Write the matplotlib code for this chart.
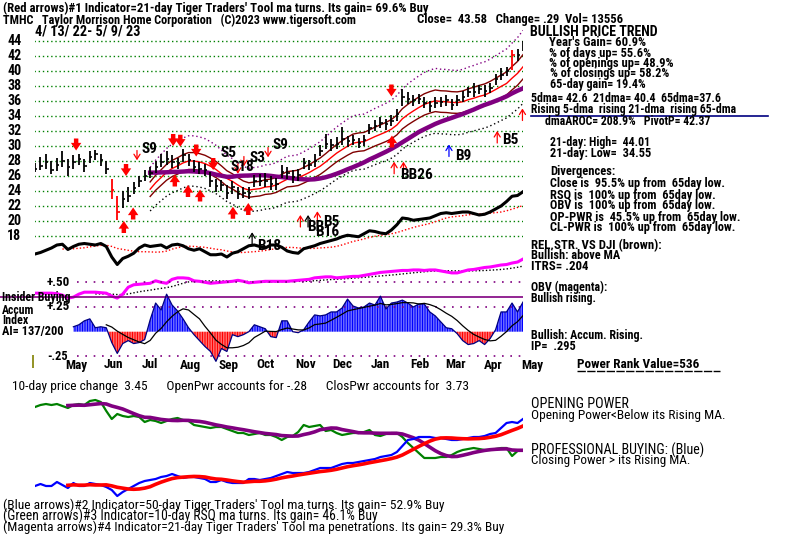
import numpy as np
import pandas as pd
import matplotlib
matplotlib.use('Agg')
import matplotlib.pyplot as plt

# TMHC daily chart, 4/13/22 - 5/9/23, sampled about every 3 trading days
start, end = '2022-04-13', '2023-05-09'

closes = [27.0, 27.4, 27.9, 26.8, 27.5, 28.0, 27.2, 27.9, 28.3, 27.3,
          28.6, 28.9, 28.1, 27.0, 24.2, 21.2, 23.0, 23.4, 24.4, 25.3,
          26.0, 26.4, 27.2, 27.9, 28.3, 27.9, 27.7, 28.8, 28.2, 27.2,
          27.0, 26.8, 25.4, 24.7, 24.8, 23.8, 24.5, 23.6, 23.7, 23.8,
          25.4, 25.4, 25.3, 25.0, 25.0, 26.5, 26.4, 25.9, 26.2, 27.7,
          27.5, 28.0, 29.4, 30.3, 30.1, 30.3, 31.0, 30.7, 30.8, 30.4,
          30.8, 32.4, 32.7, 33.1, 32.9, 33.4, 34.3, 36.6, 36.3, 36.1,
          36.3, 35.8, 35.3, 35.8, 35.9, 36.1, 35.5, 36.1, 36.6, 37.2,
          37.2, 37.6, 37.4, 37.8, 38.9, 39.5, 40.0, 42.1, 42.1, 43.5]
highs = [27.8, 28.5, 28.9, 28.0, 28.4, 29.4, 28.3, 28.8, 29.0, 28.3,
         29.3, 29.5, 29.0, 28.0, 25.6, 23.4, 24.0, 24.5, 25.2, 26.0,
         26.8, 27.2, 28.0, 28.9, 29.4, 28.8, 28.4, 29.6, 29.0, 28.1,
         27.9, 27.6, 26.5, 25.6, 25.5, 24.8, 25.4, 24.5, 24.5, 24.6,
         26.2, 26.3, 26.4, 26.0, 25.8, 27.5, 27.2, 26.8, 26.9, 28.4,
         28.2, 28.9, 30.2, 31.6, 30.9, 31.2, 32.5, 31.4, 31.5, 31.1,
         31.5, 33.0, 33.5, 33.9, 33.6, 34.2, 35.0, 37.6, 37.2, 36.8,
         36.9, 36.5, 36.0, 36.5, 36.6, 36.8, 36.3, 36.8, 37.3, 37.9,
         38.4, 38.2, 38.1, 38.4, 39.6, 40.4, 40.6, 42.8, 43.0, 44.0]
lows = [26.5, 26.8, 27.0, 26.3, 26.7, 27.2, 26.0, 27.0, 27.5, 26.5,
        27.8, 28.2, 27.3, 26.3, 23.0, 20.2, 21.8, 22.6, 23.6, 24.6,
        25.4, 25.8, 26.4, 27.2, 27.5, 27.1, 26.9, 27.9, 27.4, 26.5,
        26.3, 26.0, 24.6, 23.9, 24.0, 23.0, 23.6, 23.0, 23.1, 23.0,
        24.5, 24.7, 24.6, 24.1, 24.2, 25.7, 25.6, 25.1, 25.4, 26.9,
        26.8, 27.2, 28.7, 29.6, 29.4, 29.6, 30.2, 29.9, 30.1, 29.7,
        30.0, 31.6, 32.0, 32.4, 32.1, 32.7, 33.4, 35.3, 35.6, 35.4,
        35.6, 35.1, 34.6, 35.1, 35.2, 35.4, 34.8, 35.4, 35.9, 36.5,
        36.6, 36.9, 36.6, 37.1, 38.1, 38.8, 39.3, 40.1, 41.3, 42.7]
red_bars = [14, 15, 87]

# relative strength vs DJI (drawn in the price panel, arbitrary scale)
rel_strength = [15.6, 15.8, 16.1, 16.4, 16.8, 16.9, 16.2, 16.6, 16.9, 17.0,
                16.9, 16.8, 17.0, 16.6, 15.2, 14.2, 15.0, 15.3, 15.7, 16.4,
                16.8, 16.6, 16.7, 16.8, 16.4, 16.8, 16.9, 16.7, 16.3, 16.1,
                16.3, 15.9, 15.5, 15.5, 15.6, 15.2, 15.7, 15.9, 16.3, 16.7,
                16.8, 16.6, 16.4, 16.8, 16.8, 16.5, 16.0, 15.8, 15.7, 16.3,
                16.5, 16.7, 17.0, 17.2, 17.4, 17.6, 17.9, 18.1, 18.0, 17.9,
                18.3, 18.7, 18.6, 18.4, 18.3, 18.8, 19.5, 20.4, 20.3, 20.1,
                20.2, 20.3, 20.4, 20.7, 21.0, 21.1, 21.0, 21.1, 21.2, 21.2,
                21.0, 20.8, 20.9, 21.2, 21.6, 22.0, 22.6, 23.3, 23.4, 23.9]

# OBV (magenta), on the accumulation panel scale
obv = [0.39, 0.39, 0.39, 0.39, 0.385, 0.37, 0.34, 0.35, 0.38, 0.40,
       0.40, 0.40, 0.395, 0.39, 0.36, 0.34, 0.38, 0.45, 0.475, 0.48,
       0.485, 0.49, 0.515, 0.50, 0.49, 0.53, 0.545, 0.545, 0.54, 0.515,
       0.51, 0.50, 0.49, 0.495, 0.50, 0.505, 0.51, 0.52, 0.51, 0.495,
       0.50, 0.505, 0.51, 0.51, 0.51, 0.51, 0.51, 0.515, 0.52, 0.525,
       0.53, 0.545, 0.55, 0.555, 0.555, 0.545, 0.55, 0.555, 0.56, 0.56,
       0.57, 0.58, 0.59, 0.60, 0.605, 0.61, 0.615, 0.62, 0.62, 0.625,
       0.625, 0.62, 0.625, 0.625, 0.615, 0.605, 0.595, 0.595, 0.61, 0.625,
       0.63, 0.64, 0.65, 0.655, 0.665, 0.675, 0.68, 0.695, 0.705, 0.735]

# Accumulation index (starts after 21 days)
accum = [np.nan] * 7 + [
    0.05, 0.07, 0.11, 0.13, 0.04, 0.05, 0.04, -0.11, -0.22, -0.12,
    -0.09, -0.12, -0.11, -0.08, 0.12, 0.29, 0.22, 0.38, 0.27, 0.21,
    0.13, 0.04, -0.03, -0.09, -0.15, -0.20, -0.30, -0.17, -0.20, -0.03,
    -0.05, -0.03, 0.0, 0.07, 0.05, 0.03, -0.05, -0.06, 0.11, 0.11,
    0.0, -0.01, 0.02, 0.10, 0.17, 0.16, 0.17, 0.20, 0.20, 0.24,
    0.33, 0.26, 0.24, 0.25, 0.29, 0.27, 0.36, 0.23, 0.29, 0.30,
    0.32, 0.29, 0.25, 0.28, 0.28, 0.20, 0.16, 0.10, 0.04, 0.03,
    -0.02, -0.09, -0.13, -0.12, -0.09, -0.13, -0.07, 0.02, 0.20, 0.20,
    0.29, 0.20, 0.30]

# opening power (green) and closing power (blue), arbitrary units
open_power = [9.3, 9.5, 9.6, 9.5, 9.6, 9.4, 9.2, 9.5, 9.6, 9.5,
              9.9, 10.0, 9.8, 8.9, 8.1, 8.6, 8.4, 8.3, 8.4, 8.3,
              7.8, 8.0, 7.9, 7.7, 7.9, 8.1, 8.2, 8.0, 7.9, 7.5,
              7.4, 7.3, 7.2, 7.3, 7.3, 7.1, 6.9, 6.7, 6.7, 6.5,
              6.6, 6.7, 6.5, 6.5, 6.3, 6.0, 6.3, 6.4, 6.8, 7.5,
              7.3, 7.4, 7.5, 6.9, 7.0, 6.7, 6.5, 6.6, 6.7, 6.7,
              6.8, 7.0, 6.5, 6.4, 6.6, 6.7, 6.7, 6.3, 5.7, 5.2,
              4.7, 4.2, 4.2, 4.2, 4.3, 4.3, 4.5, 4.8, 5.0, 5.1,
              5.2, 5.1, 5.0, 5.0, 5.1, 5.2, 5.2, 4.4, 4.9, 5.0]
close_power = [1.4, 1.6, 1.4, 1.4, 1.8, 1.5, 1.2, 1.7, 1.4, 1.4,
               1.7, 1.6, 1.5, 1.3, 1.0, 0.4, 0.8, 1.1, 1.4, 1.7,
               1.9, 2.0, 2.1, 2.3, 2.4, 2.6, 2.4, 2.2, 2.3, 2.3,
               2.2, 2.1, 1.8, 1.8, 2.0, 1.8, 1.7, 1.7, 1.7, 2.1,
               2.1, 2.0, 2.1, 2.2, 2.4, 2.6, 2.8, 2.7, 2.7, 2.7,
               2.8, 3.0, 3.2, 3.2, 3.2, 3.4, 3.6, 3.7, 3.7, 3.8,
               3.9, 4.0, 4.1, 4.3, 4.4, 4.5, 4.8, 5.4, 6.0, 6.1,
               6.3, 6.3, 6.3, 6.2, 6.2, 6.1, 6.0, 6.0, 6.1, 6.2,
               6.3, 6.3, 6.4, 6.6, 6.7, 7.2, 7.7, 7.8, 7.7, 8.1]

# signals on the price chart (position in sample index, price)
sell_pos = [7.5, 16.6, 25.2, 26.5, 29.4, 32.5, 65.0]
sell_top = [31.0, 27.6, 31.6, 31.5, 30.2, 28.4, 38.2]
buy_pos = [16.2, 17.9, 25.5, 27.9, 30.1, 36.1, 38.9, 65.1]
buy_tip = [20.0, 21.8, 26.2, 24.8, 24.2, 21.9, 22.4, 31.4]
thin_down_pos = [18.6, 37.0, 38.1, 42.5]
thin_down_top = [29.4, 27.6, 28.6, 29.8]
thin_up_pos = [65.5, 67.2, 84.3, 88.9, 89.4, 48.4, 51.5, 75.5, 49.8, 39.6]
thin_up_tip = [27.9, 27.9, 32.0, 35.0, 35.0, 20.8, 21.3, 30.2, 20.8, 18.5]
thin_up_col = ['red'] * 7 + ['blue', 'black', 'black']
sig_labels = ['S9', 'S5', 'S18', 'S3', 'S9', 'BB26', 'B9', 'B5', 'BB', 'B16', 'B5', 'B18']
sig_pos = [19.5, 33.8, 35.6, 39.2, 43.4, 66.6, 76.6, 85.2, 49.6, 51.1, 52.6, 40.5]
sig_price = [29.6, 29.1, 27.2, 28.4, 30.1, 26.1, 28.6, 30.8, 19.2, 18.6, 19.8, 16.6]

months = ['May', 'Jun', 'Jul', 'Aug', 'Sep', 'Oct', 'Nov', 'Dec', 'Jan', 'Feb', 'Mar', 'Apr', 'May']
price_levels = list(range(18, 46, 2))

W, H = 800, 538
BOLD = ['Roboto Condensed', 'DejaVu Sans']
NARROW = ['Roboto Condensed', 'DejaVu Sans']
n = len(closes)
x = np.arange(n)

fig = plt.figure(figsize=(W / 100, H / 100), dpi=100)
renderer = fig.canvas.get_renderer()


def px_axes(x0, y0, x1, y1):
    ax = fig.add_axes([x0 / W, 1 - y1 / H, (x1 - x0) / W, (y1 - y0) / H])
    ax.set_axis_off()
    ax.patch.set_alpha(0)
    return ax


def px2i(xp):
    return (xp - 35) * (n - 1) / 488.0


def put(x0, y, s, x1=None, size=8, color='black', weight='bold', family=BOLD, shrink=0.93, **kw):
    t = fig.text(x0 / W, 1 - y / H, s, ha='left', va='center', fontsize=size,
                 color=color, fontweight=weight, family=family, **kw)
    if x1 is not None:
        bb = t.get_window_extent(renderer)
        t.set_fontsize(size * (x1 - x0) / bb.width * shrink)
    return t


# ---------------- price panel ----------------
ax = px_axes(35, 30, 523, 272)
ax.set_xlim(0, n - 1)
ax.set_ylim(44 - (272 - 41) / 7.5, 44 + 11 / 7.5)
for lv in price_levels:
    ax.hlines(lv, px2i(34), n - 1, colors='green', linestyles=(0, (1, 2)), lw=1)
    put(7, 41 + (44 - lv) * 7.5, str(lv), size=10)

c = pd.Series(closes)
ma21 = c.rolling(7).mean()
ma65 = c.rolling(22).mean()
ma21[x < 21] = np.nan
ax.plot(x, ma21 * 1.12, color='purple', lw=1, ls=(0, (1, 2)))
ax.plot(x, ma21 * 0.88, color='black', lw=1, ls=(0, (1, 2)))
ax.plot(x, ma21 * 1.04, color='#800000', lw=1)
ax.plot(x, ma21 * 0.96, color='#800000', lw=1)
ax.plot(x, ma21, color='red', lw=1)
ax.plot(x, ma65, color='#800080', lw=3.2)

bar_col = ['red' if i in red_bars else 'black' for i in range(n)]
ax.vlines(x, lows, highs, colors=bar_col, lw=1.3)
ax.hlines(closes, x, x + 0.45, colors=bar_col, lw=1.2)

rs = pd.Series(rel_strength)
ax.plot(x, rs.rolling(10, min_periods=6).mean(), color='red', lw=1, ls=(0, (1, 1.5)))
ax.plot(x, rs, color='black', lw=2.2)

thick = dict(arrowstyle='simple,head_length=0.55,head_width=0.75,tail_width=0.32',
             color='red', lw=0, shrinkA=0, shrinkB=0)
thin = dict(arrowstyle='->,head_length=0.35,head_width=0.22', lw=0.9, shrinkA=0, shrinkB=0)
for p, top in zip(sell_pos, sell_top):
    ax.annotate('', xy=(p, top - 1.6), xytext=(p, top), arrowprops=thick)
for p, tip in zip(buy_pos, buy_tip):
    ax.annotate('', xy=(p, tip), xytext=(p, tip - 1.6), arrowprops=thick)
for p, top in zip(thin_down_pos, thin_down_top):
    ax.annotate('', xy=(p, top - 1.3), xytext=(p, top), arrowprops=dict(thin, color='red'))
for p, tip, col in zip(thin_up_pos, thin_up_tip, thin_up_col):
    ax.annotate('', xy=(p, tip), xytext=(p, tip - 1.6), arrowprops=dict(thin, color=col))
for lab, p, pr in zip(sig_labels, sig_pos, sig_price):
    ax.text(p, pr, lab, fontsize=11, fontweight='bold', family=BOLD, va='center', ha='left')


# ---------------- OBV + accumulation panel ----------------
def ai_y(yp):
    return (331.7 - yp) / 98.8


ax2 = px_axes(35, 255, 523, 368)
ax2.set_xlim(0, n - 1)
ax2.set_ylim(ai_y(368), ai_y(255))
o = pd.Series(obv)
ax2.plot(x, o.rolling(12).mean(), color='black', lw=1, ls=(0, (1, 1.5)))
ax2.plot(x, o, color='#ff00ff', lw=2.2)

for lv in (0.5, 0.25, -0.25):
    ax2.hlines(lv, px2i(77), n - 1, colors='#800080', linestyles=(0, (1, 4)), lw=1.2)
ax2.hlines(0.35, px2i(0), n - 1, colors='#800080', lw=1.2, clip_on=False)

a = np.array(accum, dtype=float)
xa, aa = x[7:], a[7:]
plt.rcParams['hatch.linewidth'] = 0.9
ax2.fill_between(xa, 0, aa, where=aa >= 0, interpolate=True, facecolor='white',
                 edgecolor='blue', hatch='|' * 10, lw=0)
ax2.fill_between(xa, 0, aa, where=aa <= 0, interpolate=True, facecolor='white',
                 edgecolor='red', hatch='|' * 10, lw=0)
ax2.plot(xa, aa, color='#000080', lw=0.9)
ax2.plot(x, pd.Series(a).rolling(7).mean(), color='black', lw=0.9)
ax2.vlines(px2i(33), ai_y(368), ai_y(355), colors='#808000', lw=1.2, clip_on=False)

# month labels
t0, t1 = pd.Timestamp(start), pd.Timestamp(end)
mstarts = pd.date_range('2022-05-01', '2023-05-01', freq='MS')
for lab, d in zip(months, mstarts):
    xp = 35 + (d - t0) / (t1 - t0) * 488 + 8
    put(xp, 365, lab, size=9.5)

# ---------------- opening / closing power panel ----------------
ax3 = px_axes(35, 395, 523, 505)
ax3.set_xlim(0, n - 1)
ax3.set_ylim(-0.5, 10.5)
op = pd.Series(open_power)
cp = pd.Series(close_power)
ax3.plot(x, op, color='#008000', lw=1.6)
ax3.plot(x, op.rolling(7).mean(), color='#800080', lw=2.6)
ax3.plot(x, cp, color='blue', lw=1.6)
ax3.plot(x, cp.rolling(7).mean(), color='red', lw=2.6)

# ---------------- texts ----------------
put(3, 8, "(Red arrows)#1 Indicator=21-day Tiger Traders' Tool ma turns. Its gain= 69.6% Buy", 475,
    shrink=0.9)
put(3, 20, "TMHC   Taylor Morrison Home Corporation   (C)2023 www.tigersoft.com", 398, shrink=0.9)
put(417, 20, "Close=  43.58   Change= .29  Vol= 13556", 647, shrink=0.9)
put(35, 32, "4/ 13/ 22- 5/ 9/ 23", 148)

put(530, 31.7, "BULLISH PRICE TREND", 668)
right_block = [
    (549, 42.3, "Year's Gain= 60.9%", 659),
    (549, 53.3, "% of days up= 55.6%", 666),
    (549, 63.5, "% of openings up= 48.9%", 691),
    (550, 73.3, "% of closings up= 58.2%", 686),
    (550, 84, "65-day gain= 19.4%", 660),
    (531, 98.3, "5dma= 42.6  21dma= 40.4  65dma=37.6", 747),
    (531, 110, "Rising 5-dma  rising 21-dma  rising 65-dma", 765),
    (545, 121.7, "dmaAROC= 208.9%   PivotP= 42.37", 733),
    (550, 142, "21-day: High=  44.01", 665),
    (550, 154, "21-day: Low=  34.55", 665),
    (550, 172, "Divergences:", 624),
    (550, 184, "Close is  95.5% up from  65day low.", 749),
    (550, 195, "RSQ is  100% up from  65day low.", 740),
    (550, 206, "OBV is  100% up from  65day low.", 738),
    (550, 217, "OP-PWR is  45.5% up from  65day low.", 768),
    (550, 227, "CL-PWR is  100% up from  65day low.", 762),
    (531, 246, "REL.STR. VS DJI (brown):", 679),
    (531, 255.7, "Bullish: above MA", 632),
    (531, 266.7, "ITRS= .204", 596),
    (531, 287.7, "OBV (magenta):", 618),
    (531, 298.3, "Bullish rising.", 605),
    (531, 335.7, "Bullish: Accum. Rising.", 659),
    (531, 346, "IP=  .295", 582),
]
for x0, yy, s, x1 in right_block:
    put(x0, yy, s, x1, shrink=0.88)
fig.add_artist(plt.Line2D([531 / W, 768 / W], [1 - 115.5 / H] * 2, color='#000080', lw=1.2))
put(577, 365, "Power Rank Value=536", 709)
fig.add_artist(plt.Line2D([577 / W, 720 / W], [1 - 371 / H] * 2, color='black', lw=1,
                          ls=(0, (6, 1))))

put(47, 282, "+.50", 72)
put(2, 297.7, "Insider Buying", 80, shrink=0.88)
put(2, 310, "Accum", 39, shrink=0.88)
put(47, 307, "+.25", 72)
put(2, 320.7, "Index", 32, shrink=0.88)
put(2, 331, "AI= 137/200", 72, shrink=0.88)
put(47, 356, "-.25", 69)

put(12, 386.7, "10-day price change  3.45      OpenPwr accounts for -.28      ClosPwr accounts for  3.73",
    502, weight='normal', family=NARROW)
put(531, 404, "OPENING POWER", 636, weight='normal', family=NARROW)
put(531, 415.7, "Opening Power<Below its Rising MA.", 739, weight='normal', family=NARROW)
put(531, 450, "PROFESSIONAL BUYING: (Blue)", 717, weight='normal', family=NARROW)
put(531, 460.7, "Closing Power > its Rising MA.", 703, weight='normal', family=NARROW)
put(3, 505, "(Blue arrows)#2 Indicator=50-day Tiger Traders' Tool ma turns. Its gain= 52.9% Buy",
    477, weight='normal', family=NARROW)
put(3, 516, "(Green arrows)#3 Indicator=10-day RSQ ma turns. Its gain= 46.1% Buy",
    405, weight='normal', family=NARROW)
put(3, 527, "(Magenta arrows)#4 Indicator=21-day Tiger Traders' Tool ma penetrations. Its gain= 29.3% Buy",
    542, weight='normal', family=NARROW)

fig.savefig('out.png', dpi=100)
